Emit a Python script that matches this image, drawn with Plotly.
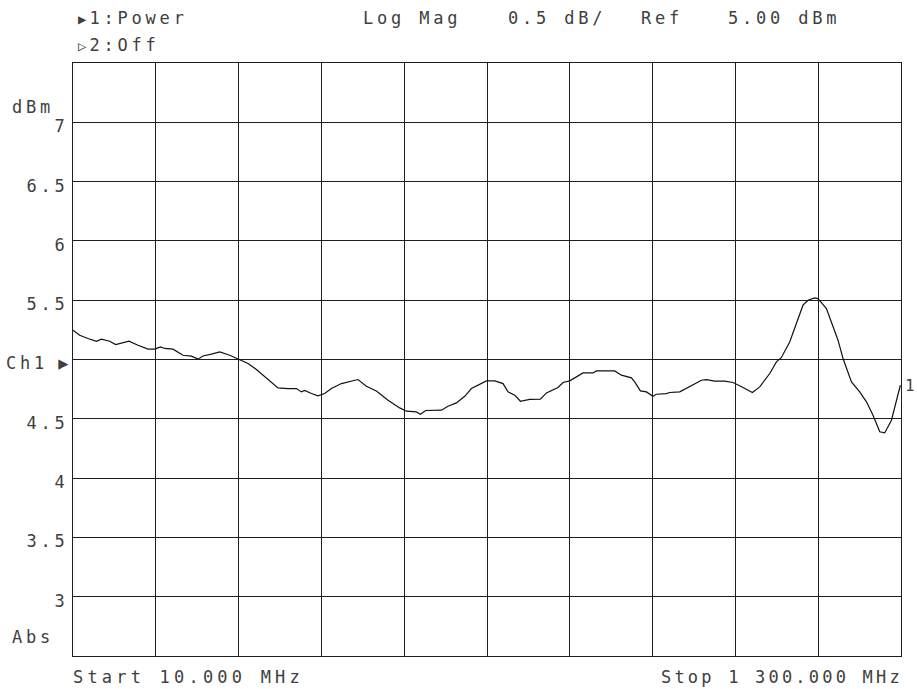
import plotly.graph_objects as go

# Trace (Start 10 MHz, Stop 1300 MHz)
freq_mhz = [10, 20.4, 33.4, 46.5, 54.2, 67.2, 76.5, 85.4, 97.2, 111.3, 126.9, 137.3,
            146.2, 152.9, 165.8, 181.4, 194.5, 204.8, 212.5, 225.6, 238.6, 254.2,
            268.2, 282.7, 295.7, 311.3, 329.4, 345, 358.1, 365.8, 371, 381.4, 391.7,
            402.1, 412.6, 428.2, 441.1, 454, 467.1, 482.7, 500.8, 519, 529.4, 545,
            551.2, 559.5, 584, 594.2, 607.3, 620.3, 630.7, 643.6, 654.1, 667, 680,
            687.7, 698.2, 707.1, 721.5, 738.2, 747.6, 765.6, 773.4, 783.9, 794.3,
            804.6, 820.2, 825.4, 853.9, 864.4, 880, 885.1, 894, 903.4, 913.6, 918.9,
            934.5, 939.7, 955.3, 970.8, 989.1, 996.8, 1009.8, 1025.3, 1038.3, 1053.9,
            1068.5, 1079.9, 1095.5, 1105.9, 1113.7, 1126.6, 1137.1, 1147.3, 1155.1,
            1165.6, 1170.7, 1183.8, 1201.9, 1209.7, 1222.8, 1235.7, 1246.2, 1256.4,
            1266.9, 1274.6, 1285.1, 1292.9, 1299]
power_dbm = [5.247, 5.205, 5.177, 5.154, 5.171, 5.154, 5.126, 5.14, 5.154, 5.12, 5.087,
             5.087, 5.106, 5.093, 5.087, 5.036, 5.028, 5.003, 5.03, 5.045, 5.064, 5.036,
             5.0, 4.966, 4.916, 4.84, 4.76, 4.755, 4.755, 4.727, 4.74, 4.713, 4.693,
             4.713, 4.755, 4.797, 4.817, 4.831, 4.775, 4.735, 4.657, 4.592, 4.564, 4.558,
             4.539, 4.57, 4.573, 4.606, 4.634, 4.69, 4.755, 4.789, 4.82, 4.82, 4.797,
             4.727, 4.699, 4.648, 4.663, 4.665, 4.718, 4.764, 4.806, 4.82, 4.853, 4.887,
             4.887, 4.904, 4.904, 4.868, 4.845, 4.811, 4.735, 4.727, 4.69, 4.707, 4.713,
             4.722, 4.727, 4.769, 4.825, 4.831, 4.817, 4.817, 4.806, 4.764, 4.722, 4.769,
             4.882, 4.98, 5.017, 5.148, 5.303, 5.458, 5.5, 5.519, 5.514, 5.43, 5.163,
             5.008, 4.811, 4.727, 4.643, 4.53, 4.39, 4.381, 4.488, 4.643, 4.783]

freq_start, freq_stop = 10, 1300
ref_level, scale_db = 5.0, 0.5
ytick_vals = [3, 3.5, 4, 4.5, 5, 5.5, 6, 6.5, 7]
ytick_text = ["3", "3.5", "4", "4.5", "Ch1", "5.5", "6", "6.5", "7"]
xtick_vals = [freq_start + i * (freq_stop - freq_start) / 10 for i in range(11)]

FONT = "DejaVu Sans Mono"
INK = "#404040"    # screen text
GRID = "#1e1e1e"   # graticule
LS = 3.8  # the HP screen font is widely spaced


def spaced(s, ls=LS):
    return '<span style="letter-spacing:%.1fpx">%s</span>' % (ls, s)


def marker(sym):
    # small channel triangle in front of the channel text
    return '<span style="font-size:14px;letter-spacing:3px">%s</span>' % sym


def ytick_label(t):
    # reference channel gets the arrow marker pointing at the graticule
    if t == "Ch1":
        return spaced(t) + " \u25B6"
    return spaced(t)


W, H = 917, 689
L, R, T, B = 73, 16, 63, 33


def px(x):
    return (x - L) / (W - L - R)


def py(y):
    return (H - B - y) / (H - T - B)


fig = go.Figure()
fig.add_trace(go.Scatter(x=freq_mhz, y=power_dbm, mode='lines',
                         line=dict(color='#111111', width=1.2), hoverinfo='skip'))

annos = [
    (marker("\u25B6") + spaced("1:Power"), 76, 18, 'left'),
    (marker("\u25B7") + spaced("2:Off"), 76, 45, 'left'),
    (spaced("Log Mag"), 361, 18, 'left'),
    (spaced("0.5 dB/"), 506, 18, 'left'),
    (spaced("Ref"), 639, 18, 'left'),
    (spaced("5.00 dBm"), 726, 18, 'left'),
    (spaced("Start 10.000 MHz", 4.2), 71, 677, 'left'),
    (spaced("Stop 1 300.000 MHz", 3.2), 905, 677, 'right'),
    (spaced("dBm"), 10, 107, 'left'),
    (spaced("Abs"), 10, 637, 'left'),
]
for text, x, y, anchor in annos:
    fig.add_annotation(text=text, x=px(x), y=py(y), xref='paper', yref='paper',
                       xanchor=anchor, yanchor='middle', showarrow=False,
                       font=dict(family=FONT, size=17, color=INK))

# trace number at the end of the sweep
fig.add_annotation(text="1", x=freq_mhz[-1], y=power_dbm[-1], xanchor='left',
                   yanchor='middle', xshift=3, showarrow=False,
                   font=dict(family=FONT, size=16, color=INK))

fig.update_layout(
    width=W, height=H,
    margin=dict(l=L, r=R, t=T, b=B, autoexpand=False),
    paper_bgcolor='white', plot_bgcolor='white',
    showlegend=False,
    xaxis=dict(range=[freq_start, freq_stop], tickvals=xtick_vals, showticklabels=False,
               showgrid=True, gridcolor=GRID, gridwidth=1, zeroline=False,
               showline=True, mirror=True, linecolor=GRID, linewidth=1, ticks='',
               automargin=False),
    yaxis=dict(range=[ref_level - 5 * scale_db, ref_level + 5 * scale_db],
               tickvals=ytick_vals, ticktext=[ytick_label(t) for t in ytick_text],
               tickfont=dict(family=FONT, size=17, color=INK),
               ticklabelshift=4, ticklabelstandoff=0,
               showgrid=True, gridcolor=GRID, gridwidth=1, zeroline=False,
               showline=True, mirror=True, linecolor=GRID, linewidth=1, ticks='',
               automargin=False),
)

# the page body has a default 8px margin; drop it so the figure fills the window
fig.write_html("out.html", config={"displayModeBar": False},
               post_script="document.body.style.margin='0';"
                           "document.body.style.overflow='hidden';")
